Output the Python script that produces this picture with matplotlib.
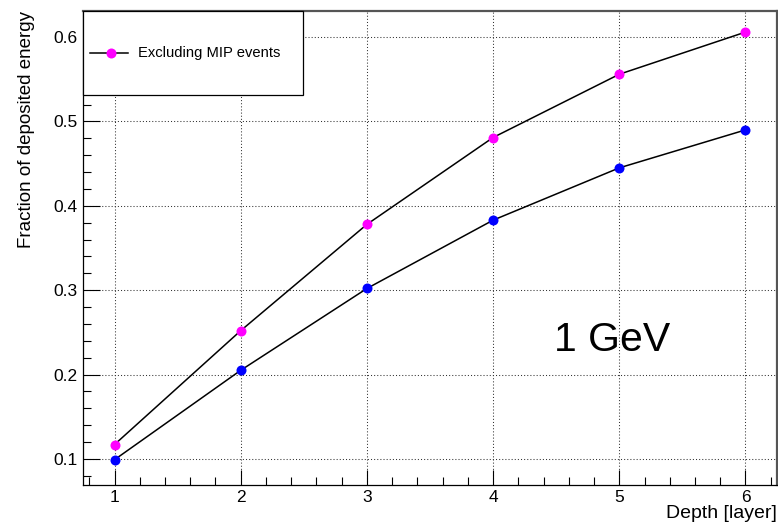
import matplotlib
matplotlib.use("Agg")
import matplotlib.pyplot as plt
from matplotlib.patches import Rectangle
from matplotlib.lines import Line2D
from matplotlib.ticker import MultipleLocator

plt.rcParams["font.family"] = ["Liberation Sans", "DejaVu Sans"]

# fraction of deposited energy vs. calorimeter depth, 1 GeV
layers = [1, 2, 3, 4, 5, 6]
frac_all = [0.099, 0.205, 0.302, 0.383, 0.445, 0.490]
frac_no_mip = [0.117, 0.252, 0.378, 0.481, 0.556, 0.606]
legend_label = "Excluding MIP events"

fig = plt.figure(figsize=(7.78, 5.28), dpi=100, facecolor="white")
ax = fig.add_axes([83 / 778, 1 - 485 / 528, 694 / 778, 474 / 528])

ax.plot(layers, frac_all, color="black", lw=1.1, marker="o", ms=7.2,
        mfc="#0000ff", mec="#0000ff", mew=0, zorder=3)
ax.plot(layers, frac_no_mip, color="black", lw=1.1, marker="o", ms=7.2,
        mfc="#ff00ff", mec="#ff00ff", mew=0, zorder=3)

ax.set_xlim(0.75, 6.25)
ax.set_ylim(0.069, 0.631)

ax.xaxis.set_major_locator(MultipleLocator(1))
ax.xaxis.set_minor_locator(MultipleLocator(0.2))
ax.yaxis.set_major_locator(MultipleLocator(0.1))
ax.yaxis.set_minor_locator(MultipleLocator(0.02))
ax.set_yticks([0.1, 0.2, 0.3, 0.4, 0.5, 0.6])
ax.set_yticklabels(["0.1", "0.2", "0.3", "0.4", "0.5", "0.6"])

ax.tick_params(which="both", direction="in", top=False, right=False,
               width=0.8, colors="black")
ax.tick_params(axis="y", which="major", length=12, pad=4, labelsize=12.5)
ax.tick_params(axis="y", which="minor", length=6)
ax.tick_params(axis="x", which="major", length=11, pad=3.5, labelsize=12.5)
ax.tick_params(axis="x", which="minor", length=5.5)

ax.set_axisbelow(True)
ax.grid(True, which="major", color="#333333", lw=0.75, ls=(0, (1, 2)))

for side in ("left", "bottom"):
    ax.spines[side].set_color("black")
    ax.spines[side].set_linewidth(0.9)
for side in ("top", "right"):
    ax.spines[side].set_color("#555555")
    ax.spines[side].set_linewidth(1.6)

ax.set_xlabel("Depth [layer]", fontsize=14, loc="right", labelpad=0)
ax.set_ylabel("Fraction of deposited energy", fontsize=13.5, loc="top",
              labelpad=13)

ax.text(4.483, 0.2284, "1 GeV", fontsize=29.5, va="baseline", ha="left")

# legend box in the upper-left corner
box = Rectangle((0, 0.8228), 0.317, 0.1772, transform=ax.transAxes,
                facecolor="white", edgecolor="black", lw=0.9, zorder=5,
                clip_on=False)
ax.add_patch(box)
ax.add_line(Line2D([0.0101, 0.0648], [0.912, 0.912], transform=ax.transAxes,
                   color="black", lw=1.1, zorder=6))
ax.add_line(Line2D([0.0403], [0.912], transform=ax.transAxes, marker="o",
                   ms=7.2, mfc="#ff00ff", mew=0, zorder=7))
ax.text(0.0793, 0.912, legend_label, transform=ax.transAxes, fontsize=10.6,
        va="center", ha="left", zorder=7)

fig.savefig("out.png", dpi=100)
